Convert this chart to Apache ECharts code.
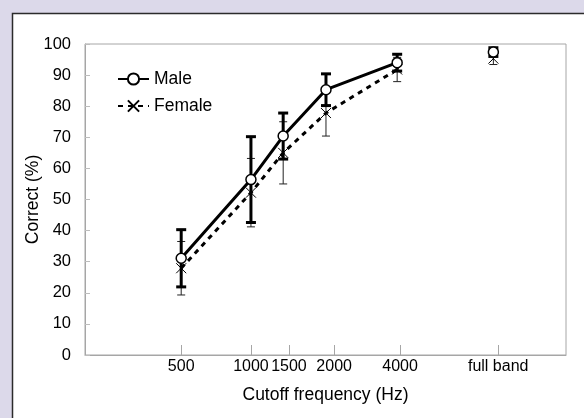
<!DOCTYPE html>
<html>
<head>
<meta charset="utf-8">
<script src="https://cdn.jsdelivr.net/npm/echarts@6/dist/echarts.min.js"></script>
<style>
  html, body { margin: 0; padding: 0; background: #dcd9ea; }
  #chart { width: 584px; height: 418px; }
</style>
</head>
<body>
<div id="chart"></div>
<script>
// tick labels on the x axis and where they sit (axis runs 0..100)
var tickLabels = ['500', '1000', '1500', '2000', '4000', 'full band'];
var tickPos = [20, 34.5, 42.4, 51.8, 65.5, 85.9];
// where each condition's points are plotted
var pointPos = [20, 34.5, 41.2, 50.1, 64.9, 84.9];

var maleMean = [31.1, 56.4, 70.4, 85.3, 94.0, 97.4];
var maleSD = [9.2, 13.8, 7.4, 5.1, 2.7, 1.4];
var femaleMean = [27.9, 52.2, 65.0, 77.8, 91.8, 95.3];
var femaleSD = [8.6, 11.0, 10.0, 7.4, 3.9, 1.9];

var FONT = '"Liberation Sans", Arial, sans-serif';

var dom = document.getElementById('chart');
var chart = echarts.init(dom, null, { renderer: 'canvas' });

function pts(mean, from, to) {
  var out = [];
  for (var i = from; i < to; i++) out.push([pointPos[i], mean[i]]);
  return out;
}

function bars(mean, sd) {
  return mean.map(function (m, i) {
    return [pointPos[i], m - sd[i], m + sd[i]];
  });
}

function errorBar(width, half, color) {
  return function (params, api) {
    var x = api.value(0);
    var top = api.coord([x, api.value(2)]);
    var bot = api.coord([x, api.value(1)]);
    var st = { stroke: color, lineWidth: width };
    return {
      type: 'group',
      children: [
        { type: 'line', shape: { x1: top[0], y1: top[1], x2: bot[0], y2: bot[1] }, style: st },
        { type: 'line', shape: { x1: top[0] - half, y1: top[1], x2: top[0] + half, y2: top[1] }, style: st },
        { type: 'line', shape: { x1: bot[0] - half, y1: bot[1], x2: bot[0] + half, y2: bot[1] }, style: st }
      ]
    };
  };
}

var crossPath = 'path://M0,0L10,10M10,0L0,10';

var option = {
  backgroundColor: '#dcd9ea',
  animation: false,
  textStyle: { fontFamily: FONT },
  graphic: [{
    type: 'rect',
    z: -10,
    shape: { x: 12.5, y: 13.5, width: 620, height: 460 },
    style: { fill: '#fff', stroke: '#2b2b2b', lineWidth: 1.5 }
  }],
  grid: {
    left: 85, top: 44, right: 18, bottom: 63,
    show: true, borderColor: '#a6a6a6', borderWidth: 1
  },
  legend: {
    data: ['Male', 'Female'],
    orient: 'vertical',
    left: 117, top: 70,
    padding: 0,
    itemWidth: 31, itemHeight: 14, itemGap: 9,
    textStyle: { fontSize: 17.5, color: '#000', fontFamily: FONT }
  },
  xAxis: {
    type: 'value',
    min: 0, max: 100,
    name: 'Cutoff frequency (Hz)',
    nameLocation: 'middle',
    nameGap: 31,
    nameMoveOverlap: false,
    nameTextStyle: { fontSize: 17.5, color: '#000', fontFamily: FONT },
    axisLine: { show: true, lineStyle: { color: '#a6a6a6', width: 1 } },
    axisTick: { show: true, inside: true, length: 10, customValues: tickPos, lineStyle: { color: '#a6a6a6' } },
    axisLabel: {
      customValues: tickPos,
      margin: 4,
      fontSize: 16, color: '#000', fontFamily: FONT,
      formatter: function (v) {
        var i = tickPos.indexOf(v);
        return i >= 0 ? tickLabels[i] : '';
      }
    },
    splitLine: { show: false }
  },
  yAxis: {
    type: 'value',
    min: 0, max: 100, interval: 10,
    name: 'Correct (%)',
    nameLocation: 'middle',
    nameGap: 43,
    nameMoveOverlap: false,
    nameRotate: 90,
    nameTextStyle: { fontSize: 17.5, color: '#000', fontFamily: FONT },
    axisLine: { show: true, lineStyle: { color: '#a6a6a6', width: 1 } },
    axisTick: { show: true, inside: true, length: 5, lineStyle: { color: '#bdbdbd' } },
    axisLabel: { margin: 14, fontSize: 16.5, color: '#000', fontFamily: FONT },
    splitLine: { show: false }
  },
  series: [
    {
      type: 'custom',
      name: 'femaleErr',
      renderItem: errorBar(1, 4, '#222'),
      encode: { x: 0, y: [1, 2] },
      data: bars(femaleMean, femaleSD),
      z: 1
    },
    {
      type: 'custom',
      name: 'maleErr',
      renderItem: errorBar(3, 5, '#000'),
      encode: { x: 0, y: [1, 2] },
      data: bars(maleMean, maleSD),
      z: 2
    },
    {
      type: 'line',
      name: 'Female',
      data: pts(femaleMean, 0, 5),
      symbol: crossPath,
      symbolSize: 10,
      itemStyle: { color: '#000', borderColor: '#000', borderWidth: 1 },
      lineStyle: { color: '#000', width: 3, type: [5, 5] },
      z: 3
    },
    {
      type: 'scatter',
      name: 'FemaleFull',
      data: pts(femaleMean, 5, 6),
      symbol: crossPath,
      symbolSize: 10,
      itemStyle: { color: '#000', borderColor: '#000', borderWidth: 1, opacity: 1 },
      z: 3
    },
    {
      type: 'line',
      name: 'Male',
      data: pts(maleMean, 0, 5),
      symbol: 'circle',
      symbolSize: 10,
      itemStyle: { color: '#fff', borderColor: '#000', borderWidth: 1.5 },
      lineStyle: { color: '#000', width: 3 },
      z: 4
    },
    {
      type: 'scatter',
      name: 'MaleFull',
      data: pts(maleMean, 5, 6),
      symbol: 'circle',
      symbolSize: 10,
      itemStyle: { color: '#fff', borderColor: '#000', borderWidth: 1.5, opacity: 1 },
      z: 4
    }
  ]
};

chart.setOption(option);
window.addEventListener('resize', chart.resize);
</script>
</body>
</html>
